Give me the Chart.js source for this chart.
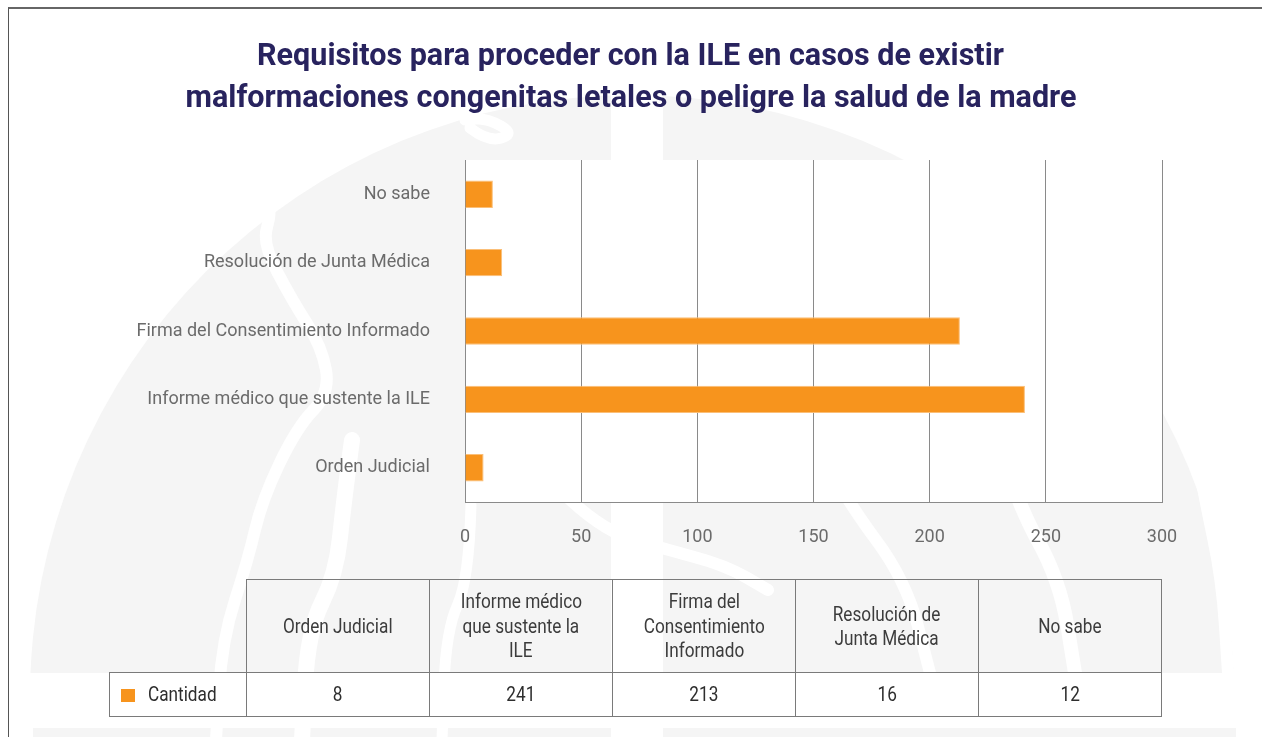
<!DOCTYPE html>
<html>
<head>
<meta charset="utf-8">
<script src="https://cdn.jsdelivr.net/npm/chart.js@4.4.1/dist/chart.umd.min.js"></script>
<style>
  html, body { margin: 0; padding: 0; width: 1262px; height: 737px; overflow: hidden; background: #fff; }
  #wrap { position: relative; width: 1262px; height: 737px; }
  #c { position: absolute; left: 0; top: 0; }
  #frame { position: absolute; left: 8px; top: 7px; right: -5px; bottom: -5px; border-left: 1px solid #555; border-top: 2px solid #666; pointer-events: none; }
  #title { position: absolute; left: 0; width: 1262px; top: 33px; text-align: center; font-family: Roboto, sans-serif; font-weight: bold; font-size: 32px; line-height: 42px; color: #28235e; }
  #title div { white-space: nowrap; }
  #title span { display: inline-block; transform-origin: 50% 50%; }
  #tbl { position: absolute; left: 109px; top: 579px; border-collapse: collapse; font-family: Roboto, sans-serif; font-size: 20px; color: #2e2e2e; table-layout: fixed; }
  #tbl td { border: 1px solid #7a7a7a; text-align: center; vertical-align: middle; padding: 0; line-height: 24.5px; }
  #tbl td span.t { display: inline-block; transform: scaleX(0.86); transform-origin: 50% 50%; white-space: nowrap; }
  #tbl td.blank { border: none; border-right: 1px solid #7a7a7a; }
  #tbl td.leg { text-align: left; padding-left: 11px; background: #fff; }
  #tbl td.leg span.t { transform-origin: 0 50%; }
  #tbl .sw { display: inline-block; width: 14px; height: 13px; background: #f7941d; margin-right: 13px; vertical-align: -1px; }
  #tbl tr.hdr td { height: 92px; color: #3c3c3c; }
  #tbl tr.val td { height: 43px; background: #fff; }
</style>
</head>
<body>
<div id="wrap">
  <canvas id="c" width="1262" height="737"></canvas>
  <div id="title"></div>
  <table id="tbl"></table>
  <div id="frame"></div>
</div>
<script>
// ---- data ----
const titleLines = [
  "Requisitos para proceder con la ILE en casos de existir",
  "malformaciones congenitas letales o peligre la salud de la madre"
];
const categories = [
  "Orden Judicial",
  "Informe médico que sustente la ILE",
  "Firma del Consentimiento Informado",
  "Resolución de Junta Médica",
  "No sabe"
];
const tableHeaders = [
  ["Orden Judicial"],
  ["Informe médico", "que sustente la", "ILE"],
  ["Firma del", "Consentimiento", "Informado"],
  ["Resolución de", "Junta Médica"],
  ["No sabe"]
];
const seriesName = "Cantidad";
const cantidad = [8, 241, 213, 16, 12];
const xTicks = [0, 50, 100, 150, 200, 250, 300];

// ---- title (condensed to the reference width) ----
const titleEl = document.getElementById('title');
const mctx = document.createElement('canvas').getContext('2d');
mctx.font = 'bold 32px Roboto';
const sx = 891 / mctx.measureText(titleLines[1]).width;
titleEl.innerHTML = titleLines.map(t => '<div><span style="transform:scaleX(' + sx.toFixed(4) + ')">' + t + '</span></div>').join('');

// ---- table ----
const tbl = document.getElementById('tbl');
let h = '<colgroup><col style="width:137px">' + tableHeaders.map(() => '<col style="width:183px">').join('') + '</colgroup>';
h += '<tr class="hdr"><td class="blank"></td>';
tableHeaders.forEach(l => { h += '<td>' + l.map(s => '<span class="t">' + s + '</span>').join('<br>') + '</td>'; });
h += '</tr><tr class="val"><td class="leg"><span class="sw"></span><span class="t">' + seriesName + '</span></td>';
cantidad.forEach(v => { h += '<td><span class="t">' + v + '</span></td>'; });
h += '</tr>';
tbl.innerHTML = h;

// ---- background watermark ----
function curve(ctx, pts) {
  ctx.beginPath();
  ctx.moveTo(pts[0][0], pts[0][1]);
  for (let i = 1; i < pts.length - 1; i++) {
    const mx = (pts[i][0] + pts[i + 1][0]) / 2, my = (pts[i][1] + pts[i + 1][1]) / 2;
    ctx.quadraticCurveTo(pts[i][0], pts[i][1], mx, my);
  }
  const l = pts[pts.length - 1];
  ctx.lineTo(l[0], l[1]);
  ctx.stroke();
}
const bgPlugin = {
  id: 'bg',
  beforeDraw(chart) {
    const { ctx, chartArea: a, width, height } = chart;
    ctx.save();
    ctx.fillStyle = '#ffffff';
    ctx.fillRect(0, 0, width, height);
    ctx.save();
    ctx.beginPath(); ctx.rect(0, 0, width, 673); ctx.clip();
    ctx.fillStyle = '#f5f5f5';
    ctx.beginPath(); ctx.arc(632, 697, 602, 0, Math.PI * 2); ctx.fill();
    ctx.restore();
    ctx.fillStyle = '#f5f5f5';
    ctx.fillRect(33, 728, 1203, height - 728);
    ctx.strokeStyle = '#ffffff';
    ctx.lineCap = 'round';
    ctx.lineJoin = 'round';
    ctx.lineWidth = 12;
    curve(ctx, [[330, 112], [285, 135], [264, 175], [272, 212], [262, 243], [292, 300], [322, 347], [330, 393], [297, 427], [262, 500], [248, 560], [222, 640], [216, 740]]);
    ctx.lineWidth = 16;
    curve(ctx, [[352, 440], [344, 500], [336, 575], [308, 630], [302, 740]]);
    ctx.lineWidth = 11;
    curve(ctx, [[471, 505], [469, 580], [446, 630], [442, 740]]);
    curve(ctx, [[470, 128], [488, 142], [515, 134], [487, 118], [465, 120]]);
    ctx.lineWidth = 12;
    curve(ctx, [[560, 490], [598, 528], [660, 548], [725, 565], [768, 590]]);
    curve(ctx, [[800, 420], [846, 500], [906, 580], [930, 673]]);
    ctx.lineWidth = 14;
    curve(ctx, [[975, 380], [1015, 500], [1060, 580], [1075, 673]]);
    ctx.lineWidth = 12;
    curve(ctx, [[1190, 420], [1205, 500], [1222, 580], [1228, 673]]);
    ctx.fillStyle = '#ffffff';
    ctx.fillRect(611, 90, 52, 650);
    ctx.fillRect(0, 673, width, 55);
    ctx.fillRect(a.left, a.top, a.right - a.left, a.bottom - a.top);
    ctx.restore();
  }
};

const FONT = 'Roboto, sans-serif';

new Chart(document.getElementById('c'), {
  type: 'bar',
  data: {
    labels: categories,
    datasets: [{
      label: seriesName,
      data: cantidad,
      backgroundColor: '#f7941d',
      borderColor: '#fbbf78',
      borderWidth: 1,
      categoryPercentage: 1,
      barPercentage: 0.4
    }]
  },
  options: {
    indexAxis: 'y',
    responsive: false,
    animation: false,
    devicePixelRatio: 1,
    layout: { padding: { top: 160, right: 100, bottom: 0, left: 0 } },
    plugins: { legend: { display: false }, title: { display: false }, tooltip: { enabled: false } },
    scales: {
      x: {
        min: 0, max: 300,
        afterBuildTicks: s => { s.ticks = xTicks.map(v => ({ value: v })); },
        afterFit: s => { s.height = 235; },
        grid: { color: '#8a8a8a', lineWidth: 1, drawTicks: false },
        border: { color: '#8a8a8a', width: 1 },
        ticks: { color: '#6b6b6b', font: { family: FONT, size: 18 }, padding: 25 }
      },
      y: {
        reverse: true,
        afterFit: s => { s.width = 465; },
        grid: { display: false, drawTicks: false },
        border: { color: '#8a8a8a', width: 1 },
        ticks: { color: '#6b6b6b', font: { family: FONT, size: 18 }, padding: 35 }
      }
    }
  },
  plugins: [bgPlugin]
});
</script>
</body>
</html>
